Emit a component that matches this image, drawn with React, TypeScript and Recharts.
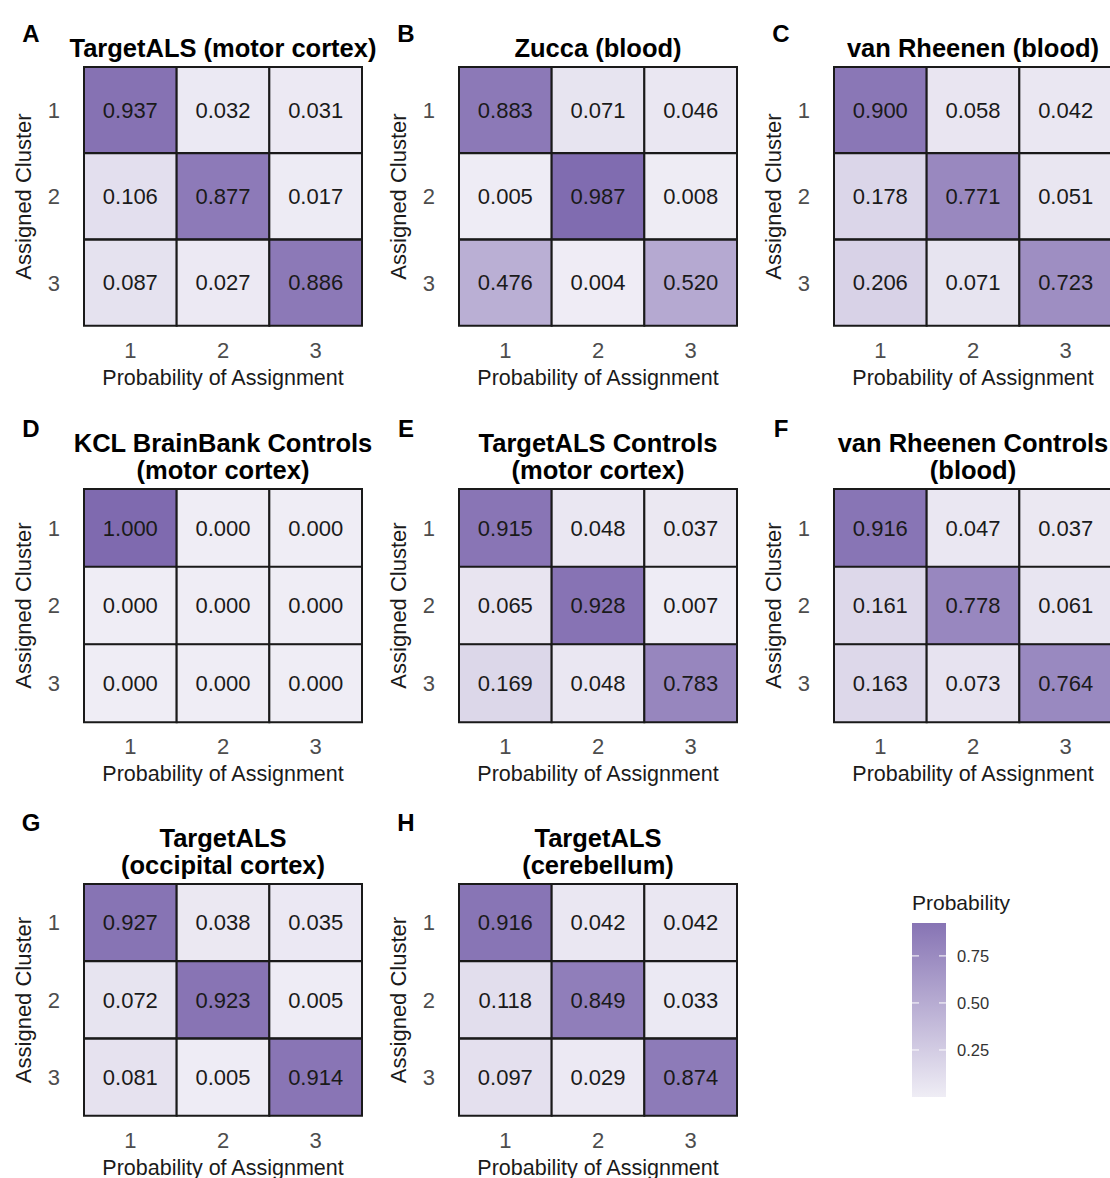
import React from 'react';
import { BarChart, Bar, XAxis, YAxis, Cell, LabelList } from 'recharts';

const CLUSTERS = ['1', '2', '3'];
const PROB_COLUMNS = ['1', '2', '3'];

// probability matrices: rows = assigned cluster, cols = probability of assignment
const targetAlsMotor = [
  [0.937, 0.032, 0.031],
  [0.106, 0.877, 0.017],
  [0.087, 0.027, 0.886],
];
const zuccaBlood = [
  [0.883, 0.071, 0.046],
  [0.005, 0.987, 0.008],
  [0.476, 0.004, 0.52],
];
const vanRheenenBlood = [
  [0.9, 0.058, 0.042],
  [0.178, 0.771, 0.051],
  [0.206, 0.071, 0.723],
];
const kclControls = [
  [1.0, 0.0, 0.0],
  [0.0, 0.0, 0.0],
  [0.0, 0.0, 0.0],
];
const targetAlsControls = [
  [0.915, 0.048, 0.037],
  [0.065, 0.928, 0.007],
  [0.169, 0.048, 0.783],
];
const vanRheenenControls = [
  [0.916, 0.047, 0.037],
  [0.161, 0.778, 0.061],
  [0.163, 0.073, 0.764],
];
const targetAlsOccipital = [
  [0.927, 0.038, 0.035],
  [0.072, 0.923, 0.005],
  [0.081, 0.005, 0.914],
];
const targetAlsCerebellum = [
  [0.916, 0.042, 0.042],
  [0.118, 0.849, 0.033],
  [0.097, 0.029, 0.874],
];

const LEGEND_BREAKS = [0.25, 0.5, 0.75];
const LEGEND_MAX = 0.925;

const FONT = '"Liberation Sans", Arial, sans-serif';
const LOW = [239, 237, 245];
const HIGH = [127, 106, 175];

const fillFor = (v: number) => {
  const c = LOW.map((l, i) => Math.round(l + (HIGH[i] - l) * v));
  return `rgb(${c[0]},${c[1]},${c[2]})`;
};

// layout of the three rows / columns
const COL_X = [0, 375, 750];
const ROWS = [
  { gridTop: 67, gridH: 259 },
  { gridTop: 489, gridH: 233 },
  { gridTop: 884, gridH: 232 },
];

const panels = [
  { letter: 'A', title: ['TargetALS (motor cortex)'], m: targetAlsMotor, row: 0, col: 0 },
  { letter: 'B', title: ['Zucca (blood)'], m: zuccaBlood, row: 0, col: 1 },
  { letter: 'C', title: ['van Rheenen (blood)'], m: vanRheenenBlood, row: 0, col: 2 },
  { letter: 'D', title: ['KCL BrainBank Controls', '(motor cortex)'], m: kclControls, row: 1, col: 0 },
  { letter: 'E', title: ['TargetALS Controls', '(motor cortex)'], m: targetAlsControls, row: 1, col: 1 },
  { letter: 'F', title: ['van Rheenen Controls', '(blood)'], m: vanRheenenControls, row: 1, col: 2 },
  { letter: 'G', title: ['TargetALS', '(occipital cortex)'], m: targetAlsOccipital, row: 2, col: 0 },
  { letter: 'H', title: ['TargetALS', '(cerebellum)'], m: targetAlsCerebellum, row: 2, col: 1 },
];

const TILE = 1;
const tileRows = (m: number[][]) =>
  CLUSTERS.map((c, i) => ({
    cluster: c,
    w1: TILE, w2: TILE, w3: TILE,
    p1: m[i][0], p2: m[i][1], p3: m[i][2],
  }));

const Heatmap = ({ m, height }: { m: number[][]; height: number }) => {
  const rows = tileRows(m);
  return (
    <BarChart
      width={375}
      height={height}
      data={rows}
      layout="vertical"
      barCategoryGap={0}
      barGap={0}
      margin={{ top: 2, right: 13, bottom: 0, left: 0 }}
      style={{ fontFamily: FONT }}
    >
      <XAxis
        type="number"
        domain={[0, 3]}
        ticks={[0.5, 1.5, 2.5]}
        tickFormatter={(v) => PROB_COLUMNS[Math.floor(v)]}
        axisLine={false}
        tickLine={false}
        tickSize={6}
        tickMargin={10}
        height={70}
        tick={{ fill: '#4d4d4d', fontSize: 22 }}
        label={{ value: 'Probability of Assignment', position: 'insideBottom', offset: 11, fill: '#1a1a1a', fontSize: 21.5 }}
      />
      <YAxis
        type="category"
        dataKey="cluster"
        width={84}
        axisLine={false}
        tickLine={false}
        tickSize={6}
        tickMargin={18}
        tick={{ fill: '#4d4d4d', fontSize: 22 }}
        label={{ value: 'Assigned Cluster', angle: -90, position: 'insideLeft', offset: 23, fill: '#1a1a1a', fontSize: 22, style: { textAnchor: 'middle' } }}
      />
      {PROB_COLUMNS.map((col, j) => (
        <Bar
          key={col}
          dataKey={`w${j + 1}`}
          stackId="tiles"
          isAnimationActive={false}
          stroke="#1a1a1a"
          strokeWidth={2}
        >
          {rows.map((r, i) => (
            <Cell key={r.cluster} fill={fillFor(m[i][j])} />
          ))}
          <LabelList
            dataKey={`p${j + 1}`}
            position="center"
            formatter={(v: any) => Number(v).toFixed(3)}
            fill="#1a1a1a"
            fontSize={22}
            fontFamily={FONT}
          />
        </Bar>
      ))}
    </BarChart>
  );
};

const Legend = () => {
  const top = 923;
  const bottom = 1097;
  const perUnit = (bottom - top) / LEGEND_MAX;
  return (
    <svg width={1110} height={1178} style={{ position: 'absolute', left: 0, top: 0, pointerEvents: 'none' }}>
      <defs>
        <linearGradient id="probGrad" x1="0" y1="1" x2="0" y2="0">
          <stop offset="0%" stopColor={fillFor(0)} />
          <stop offset="100%" stopColor={fillFor(LEGEND_MAX)} />
        </linearGradient>
      </defs>
      <text x={912} y={910} fontFamily={FONT} fontSize={21} fill="#1a1a1a">Probability</text>
      <rect x={912} y={top} width={34} height={bottom - top} fill="url(#probGrad)" />
      {LEGEND_BREAKS.map((b) => {
        const y = bottom - b * perUnit;
        return (
          <g key={b}>
            <line x1={912} x2={919} y1={y} y2={y} stroke="#fff" strokeWidth={1} />
            <line x1={939} x2={946} y1={y} y2={y} stroke="#fff" strokeWidth={1} />
            <text x={957} y={y + 6} fontFamily={FONT} fontSize={16.5} fill="#333">{b.toFixed(2)}</text>
          </g>
        );
      })}
    </svg>
  );
};

const Titles = () => (
  <svg width={1110} height={1178} style={{ position: 'absolute', left: 0, top: 0, pointerEvents: 'none' }}>
    {panels.map((p) => {
      const x0 = COL_X[p.col];
      const { gridTop } = ROWS[p.row];
      const letterY = p.row === 0 ? 42 : p.row === 1 ? 437 : 831;
      const lines = p.title;
      return (
        <g key={p.letter} fontFamily={FONT} fontWeight="bold" fill="#000">
          <text x={x0 + 31} y={letterY} fontSize={24} textAnchor="middle">{p.letter}</text>
          {lines.map((t, k) => (
            <text
              key={k}
              x={x0 + 223}
              y={gridTop - 10 - (lines.length - 1 - k) * 27}
              fontSize={25.5}
              textAnchor="middle"
            >
              {t}
            </text>
          ))}
        </g>
      );
    })}
  </svg>
);

export default function App() {
  return (
    <div
      style={{
        position: 'absolute',
        left: 0,
        top: 0,
        width: 1110,
        height: 1178,
        overflow: 'hidden',
        background: '#fff',
        fontFamily: FONT,
      }}
    >
      {panels.map((p) => {
        const r = ROWS[p.row];
        return (
          <div key={p.letter} style={{ position: 'absolute', left: COL_X[p.col], top: r.gridTop - 2 }}>
            <Heatmap m={p.m} height={2 + r.gridH + 70} />
          </div>
        );
      })}
      <Titles />
      <Legend />
    </div>
  );
}
